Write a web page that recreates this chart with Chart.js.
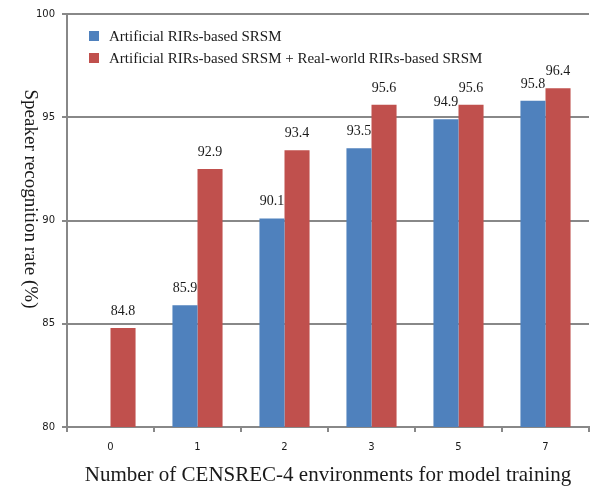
<!DOCTYPE html>
<html>
<head>
<meta charset="utf-8">
<script src="https://cdn.jsdelivr.net/npm/chart.js"></script>
<style>
  body { margin: 0; background: #fff; }
  #wrap { width: 595px; height: 488px; position: relative; }
</style>
</head>
<body>
<div id="wrap"><canvas id="myChart"></canvas></div>
<script>
// values
const categories = ['0', '1', '2', '3', '5', '7'];
const artificial = [null, 85.9, 90.1, 93.5, 94.9, 95.8];
const combined = [84.8, 92.5, 93.4, 95.6, 95.6, 96.4];
// printed labels (the 92.9 label sits on a bar that is drawn lower)
const artificialLabels = ['', '85.9', '90.1', '93.5', '94.9', '95.8'];
const combinedLabels = ['84.8', '92.9', '93.4', '95.6', '95.6', '96.4'];
const yTicks = [80, 85, 90, 95, 100];

const seriesNames = ['Artificial RIRs-based SRSM', 'Artificial RIRs-based SRSM + Real-world RIRs-based SRSM'];
const colors = ['#4F81BD', '#C0504D'];
const gridColor = '#888';
const serif = '"Liberation Serif", "Times New Roman", serif';

const extras = {
  id: 'extras',
  afterDatasetsDraw(chart) {
    const c = chart.ctx;
    const labels = [artificialLabels, combinedLabels];
    c.save();
    c.fillStyle = '#1a1a1a';
    c.font = '14px ' + serif;
    c.textAlign = 'center';
    c.textBaseline = 'alphabetic';
    chart.data.datasets.forEach((ds, i) => {
      chart.getDatasetMeta(i).data.forEach((bar, j) => {
        if (ds.data[j] == null || !labels[i][j]) return;
        c.fillText(labels[i][j], bar.x, bar.y - 13);
      });
    });

    // legend inside the plot
    c.textAlign = 'left';
    c.textBaseline = 'middle';
    c.font = '15px ' + serif;
    seriesNames.forEach((name, i) => {
      const y = 36 + i * 22;
      c.fillStyle = colors[i];
      c.fillRect(89, y - 5, 10, 10);
      c.fillStyle = '#1a1a1a';
      c.fillText(name, 109, y + 1);
    });

    // axis titles
    c.font = '21px ' + serif;
    c.textAlign = 'center';
    c.textBaseline = 'alphabetic';
    c.fillText('Number of CENSREC-4 environments for model training', 328, 481);
    c.font = '19px ' + serif;
    c.translate(30, 199);
    c.rotate(Math.PI / 2);
    c.textBaseline = 'middle';
    c.fillText('Speaker recognition rate (%)', 0, 0);
    c.restore();
  }
};

new Chart(document.getElementById('myChart'), {
  type: 'bar',
  data: {
    labels: categories,
    datasets: [
      { label: seriesNames[0], data: artificial, backgroundColor: colors[0] },
      { label: seriesNames[1], data: combined, backgroundColor: colors[1] }
    ]
  },
  options: {
    responsive: true,
    maintainAspectRatio: false,
    animation: false,
    categoryPercentage: 0.576,
    barPercentage: 1.0,
    layout: { padding: { top: 14, right: 6, left: 0, bottom: 0 } },
    plugins: { legend: { display: false }, tooltip: { enabled: false } },
    scales: {
      x: {
        grid: { drawOnChartArea: false, offset: true, color: gridColor, lineWidth: 2, tickLength: 5 },
        border: { color: gridColor, width: 2 },
        ticks: { color: '#1a1a1a', font: { family: 'DejaVu Sans', size: 10 }, padding: 9 },
        afterFit(scale) { scale.height = 61; }
      },
      y: {
        min: 80,
        max: 100,
        afterBuildTicks(scale) { scale.ticks = yTicks.map(v => ({ value: v })); },
        grid: { color: gridColor, lineWidth: 2, tickLength: 5 },
        border: { color: gridColor, width: 2 },
        ticks: { color: '#1a1a1a', font: { family: 'DejaVu Sans', size: 10 }, padding: 7 },
        afterFit(scale) { scale.width = 67; }
      }
    }
  },
  plugins: [extras]
});
</script>
</body>
</html>
